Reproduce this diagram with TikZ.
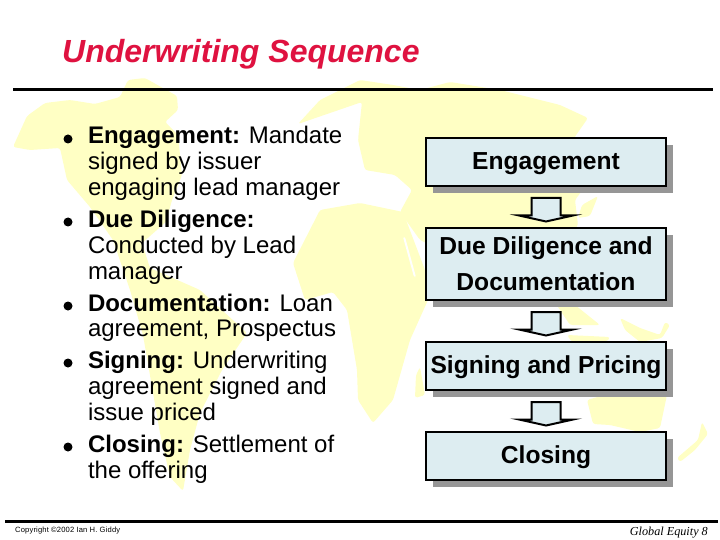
\documentclass[tikz,border=0pt]{standalone}
\usepackage{fontspec}
\setmainfont{Liberation Sans}
\newfontfamily\serifglobal{Liberation Serif}
\usetikzlibrary{calc,shadows}
\definecolor{mapyellow}{HTML}{FFFFC4}
\definecolor{boxblue}{HTML}{DDEDF1}
\definecolor{shadowgray}{HTML}{969696}
\definecolor{titlered}{HTML}{DF1240}
\newcommand{\lowered}[1]{\raisebox{-7.3pt}[0pt][0pt]{#1}}
\tikzset{
  landmass/.style={fill=mapyellow,draw=none,rounded corners=2.5pt},
  seagap/.style={fill=white,draw=none,rounded corners=1.5pt},
  rulebar/.style={line width=3pt,black},
  bodyline/.style={anchor=base west,inner sep=0,outer sep=0,font=\fontsize{24}{26}\selectfont},
  bulletdot/.style={circle,fill=black,inner sep=0,minimum size=9pt},
  stagebox/.style={draw=black,line width=2.25pt,fill=boxblue,minimum width=240pt,inner sep=0,outer sep=0,
    align=center,font=\bfseries\fontsize{24.6}{36}\selectfont,
    general shadow={fill=shadowgray,draw=none,shadow xshift=7pt,shadow yshift=-7pt}},
  blockarrow/.style={draw=black,line width=2pt,fill=boxblue,miter limit=20,line join=miter}
}
\begin{document}
\begin{tikzpicture}[x=1pt,y=-1pt]
\useasboundingbox (0,0) rectangle (720,540);
\fill[white] (0,0) rectangle (720,540);
% world map
\fill[landmass] (13,147) -- (27,116) -- (45,103) -- (70,100) -- (95,104) -- (120,97) -- (128,80) -- (145,78) -- (177,96) -- (178,110) -- (165,122) -- (178,135) -- (182,175) -- (172,200) -- (166,222) -- (142,243) -- (150,268) -- (200,290) -- (247,333) -- (222,370) -- (200,413) -- (190,450) -- (183,491) -- (170,477) -- (160,433) -- (143,335) -- (130,290) -- (113,240) -- (90,207) -- (67,180) -- (60,148) -- (30,150) -- cycle;
% Eurasia
\fill[landmass] (298,124) -- (320,100) -- (360,80) -- (393,85) -- (420,90) -- (450,82) -- (500,90) -- (560,105) -- (588,118) -- (574,138) -- (580,150) -- (590,180) -- (575,200) -- (578,225) -- (560,250) -- (575,305) -- (600,325) -- (570,325) -- (540,280) -- (515,262) -- (492,300) -- (470,262) -- (440,250) -- (420,240) -- (400,212) -- (412,190) -- (395,175) -- (365,170) -- (358,140) -- (362,102) -- cycle;
% Japan
\fill[landmass] (598,196) -- (590,216) -- (578,218) -- (582,205) -- cycle;
% Africa
\fill[landmass] (293,263) -- (320,210) -- (360,203) -- (403,212) -- (425,270) -- (428,300) -- (410,340) -- (393,400) -- (373,423) -- (358,400) -- (357,370) -- (347,310) -- (333,292) -- (305,300) -- cycle;
% Madagascar
\fill[landmass] (420,367) -- (425,395) -- (415,398) -- (416,375) -- cycle;
% Indonesia and New Guinea
\fill[landmass] (567,335) -- (610,337) -- (608,341) -- (572,342) -- cycle;
\fill[landmass] (620,318) -- (640,328) -- (660,335) -- (665,322) -- (670,325) -- (662,338) -- (640,342) -- (625,330) -- cycle;
% Australia
\fill[landmass] (587,400) -- (640,385) -- (667,395) -- (660,428) -- (640,432) -- (610,425) -- (593,424) -- cycle;
% New Zealand
\fill[landmass] (702,422) -- (708,434) -- (695,450) -- (680,462) -- (677,458) -- (698,440) -- cycle;
% Red Sea
\fill[seagap] (403,237) -- (405,237) -- (416,277) -- (414,277) -- cycle;
% rules
\coordinate (ruleAw) at (13,90); \coordinate (ruleAe) at (713,90);
\coordinate (ruleBw) at (5,521.5); \coordinate (ruleBe) at (718,521.5);
\draw[rulebar] (ruleAw) -- (ruleAe);
\draw[rulebar,line width=2.5pt] (ruleBw) -- (ruleBe);
% title
\node[anchor=base west,inner sep=0,text=titlered,font=\bfseries\itshape\fontsize{32}{34}\selectfont] (title) at (62,63) {Underwriting Sequence};
% bullets
\node[bulletdot] (d1) at (68,139) {};
\node[bulletdot] (d2) at (68,222) {};
\node[bulletdot] (d3) at (68,306) {};
\node[bulletdot] (d4) at (68,363) {};
\node[bulletdot] (d5) at (68,447) {};
% body text
\node[bodyline] (t1) at (88,144) {\textbf{Engagement:} Mandate};
\node[bodyline] (t2) at (88,170) {signed by issuer};
\node[bodyline] (t3) at (88,196) {engaging lead manager};
\node[bodyline] (t4) at (88,227) {\textbf{Due Diligence:}};
\node[bodyline] (t5) at (88,253) {Conducted by Lead};
\node[bodyline] (t6) at (88,279) {manager};
\node[bodyline] (t7) at (88,311) {\textbf{Documentation:} Loan};
\node[bodyline] (t8) at (88,336) {agreement, Prospectus};
\node[bodyline] (t9) at (88,368) {\textbf{Signing:} Underwriting};
\node[bodyline] (t10) at (88,394) {agreement signed and};
\node[bodyline] (t11) at (88,420) {issue priced};
\node[bodyline] (t12) at (88,452) {\textbf{Closing:} Settlement of};
\node[bodyline] (t13) at (88,478) {the offering};
% stage boxes
\node[stagebox,minimum height=48pt] (b1) at (546,162) {\lowered{Engagement}};
\node[stagebox,minimum height=72pt] (b2) at (546,264) {Due Diligence and\\Documentation};
\node[stagebox,minimum height=48pt] (b3) at (546,366) {\lowered{Signing and Pricing}};
\node[stagebox,minimum height=48pt] (b4) at (546,456) {\lowered{Closing}};
% block arrows
\foreach \from/\to in {b1/b2,b2/b3,b3/b4}{
  \draw[blockarrow] ($(\from.south)+(-14.5,12)$) -- ($(\from.south)+(14.5,12)$) -- ($(\to.north)+(14.5,-12.5)$) -- ($(\to.north)+(27,-12.5)$) -- ($(\to.north)+(0,-6.5)$) -- ($(\to.north)+(-27,-12.5)$) -- ($(\to.north)+(-14.5,-12.5)$) -- cycle;
}
% footer
\node[anchor=base west,inner sep=0,font=\fontsize{7.6}{9}\selectfont] (copy) at (15,532) {\addfontfeatures{LetterSpace=2}Copyright ©2002 Ian H. Giddy};
\node[anchor=base east,inner sep=0,font=\serifglobal\itshape\fontsize{12.2}{16}\selectfont] (page) at (708,535) {Global Equity 8};
\end{tikzpicture}
\end{document}
